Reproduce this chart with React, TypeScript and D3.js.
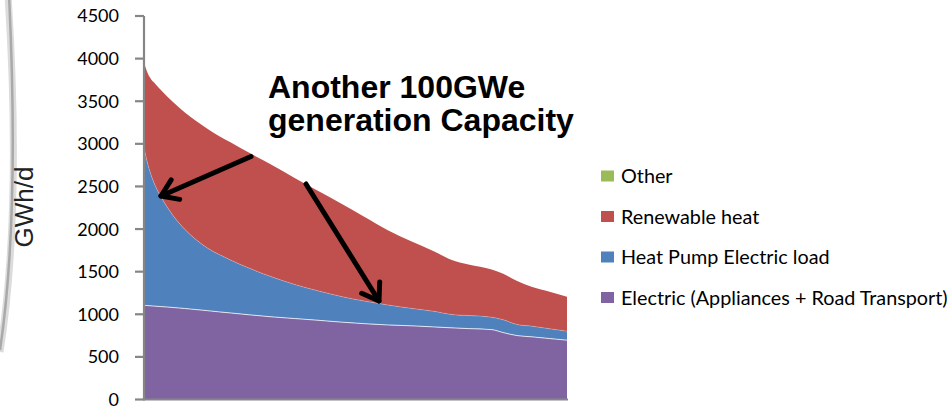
import React from "react";
import * as d3 from "d3";

const days = [0, 2, 5, 10, 15, 25, 35, 45, 55, 65, 75, 90, 110, 130, 150, 170, 190, 210, 230, 250, 265, 280, 300, 310, 322, 335, 350, 365];

const electric = [1105, 1103, 1100, 1095, 1090, 1080, 1068, 1055, 1042, 1028, 1015, 995, 970, 950, 930, 908, 890, 875, 865, 852, 841, 832, 820, 785, 750, 735, 715, 696];
const heatPump = [1855, 1727, 1580, 1405, 1280, 1080, 932, 820, 733, 672, 620, 550, 470, 400, 345, 302, 265, 235, 205, 183, 157, 153, 145, 150, 130, 125, 115, 106];
const renewable = [990, 1040, 1100, 1200, 1255, 1330, 1372, 1392, 1400, 1390, 1380, 1355, 1315, 1250, 1175, 1090, 990, 880, 790, 705, 642, 600, 560, 540, 510, 460, 435, 403];
const other = [0, 0, 0, 0, 0, 0, 0, 0, 0, 0, 0, 0, 0, 0, 0, 0, 0, 0, 0, 0, 0, 0, 0, 0, 0, 0, 0, 0];

const seriesKeys = ["electric", "heatPump", "renewable", "other"];
const seriesColors = ["#8064A2", "#4F81BD", "#C0504D", "#9BBB59"];
const legendLabels = ["Other", "Renewable heat", "Heat Pump Electric load", "Electric (Appliances + Road Transport)"];
const legendColors = ["#9BBB59", "#C0504D", "#4F81BD", "#8064A2"];
const yTicks = [0, 500, 1000, 1500, 2000, 2500, 3000, 3500, 4000, 4500];

const annotationLines = ["Another 100GWe", "generation Capacity"];

export default function App() {
  const W = 950, H = 410;
  const x = d3.scaleLinear().domain([0, 365]).range([144, 567]);
  const y = d3.scaleLinear().domain([0, 4500]).range([399.5, 16]);

  const table = days.map((d, i) => ({
    day: d,
    electric: electric[i],
    heatPump: heatPump[i],
    renewable: renewable[i],
    other: other[i],
  }));
  const stack = d3.stack<any>().keys(seriesKeys);
  const layers = stack(table);

  const area = d3
    .area<any>()
    .x((d) => x(d.data.day))
    .y0((d) => y(d[0]))
    .y1((d) => y(d[1]))
    .curve(d3.curveMonotoneX);
  const topLine = d3
    .line<any>()
    .x((d) => x(d.data.day))
    .y((d) => y(d[1]))
    .curve(d3.curveMonotoneX);

  const tickFont = "Lato, 'Open Sans', sans-serif";

  const arrow = (x1: number, y1: number, x2: number, y2: number) => {
    const ang = Math.atan2(y1 - y2, x1 - x2);
    const len = 19;
    const spread = (34 * Math.PI) / 180;
    const a1 = [x2 + len * Math.cos(ang + spread), y2 + len * Math.sin(ang + spread)];
    const a2 = [x2 + len * Math.cos(ang - spread), y2 + len * Math.sin(ang - spread)];
    return (
      <g stroke="#000" strokeWidth={5} strokeLinecap="round" strokeLinejoin="round" fill="none">
        <line x1={x1} y1={y1} x2={x2} y2={y2} />
        <polyline points={`${a1[0]},${a1[1]} ${x2},${y2} ${a2[0]},${a2[1]}`} />
      </g>
    );
  };

  return (
    <svg width={W} height={H} style={{ position: "absolute", left: 0, top: 0, background: "#fff" }}>
      {/* decorative slide arc */}
      <path d="M 8 -5 C 16 120, 16 250, 0 352" stroke="#dcdcdc" strokeWidth={7} fill="none" />
      <path d="M 9 -5 C 15 120, 15 250, 0 350" stroke="#a9a9a9" strokeWidth={2.5} fill="none" />

      {/* stacked areas */}
      {layers.map((layer, i) => (
        <path key={seriesKeys[i]} d={area(layer) || ""} fill={seriesColors[i]} />
      ))}
      <path d={topLine(layers[0]) || ""} stroke="#ffffff" strokeOpacity={0.75} strokeWidth={1} fill="none" />
      <path d={topLine(layers[1]) || ""} stroke="#ffffff" strokeOpacity={0.3} strokeWidth={0.8} fill="none" />

      {/* axes */}
      <g stroke="#868686" strokeWidth={2.2}>
        <line x1={x(0)} y1={y(4500)} x2={x(0)} y2={y(0) + 1} />
        <line x1={x(0)} y1={y(0)} x2={x(365) + 1} y2={y(0)} />
        {yTicks.map((t) => (
          <line key={t} x1={x(0) - 9} x2={x(0)} y1={y(t)} y2={y(t)} />
        ))}
      </g>
      {yTicks.map((t) => (
        <text
          key={t}
          x={119}
          y={y(t)}
          dy="0.36em"
          textAnchor="end"
          fontFamily={tickFont}
          fontSize={18}
          fill="#000"
        >
          {t}
        </text>
      ))}

      {/* y-axis title */}
      <text
        transform="translate(33,207) rotate(-90)"
        textAnchor="middle"
        fontFamily="'Liberation Sans', Arial, sans-serif"
        fontSize={26}
        fill="#222"
      >
        GWh/d
      </text>

      {/* annotation */}
      {annotationLines.map((l, i) => (
        <text
          key={l}
          x={268}
          y={98 + i * 33}
          fontFamily="'Liberation Sans', Arial, sans-serif"
          fontWeight="bold"
          fontSize={32}
          fill="#000"
        >
          {l}
        </text>
      ))}
      {arrow(251, 156.5, 161, 196)}
      {arrow(306, 184, 379, 301)}

      {/* legend */}
      {legendLabels.map((l, i) => (
        <g key={l} transform={`translate(601, ${176 + i * 40.5})`}>
          <rect x={0} y={-5.5} width={13} height={11} fill={legendColors[i]} />
          <text x={20} y={0} dy="0.36em" fontFamily={tickFont} fontSize={19.8} fill="#000">
            {l}
          </text>
        </g>
      ))}
    </svg>
  );
}
